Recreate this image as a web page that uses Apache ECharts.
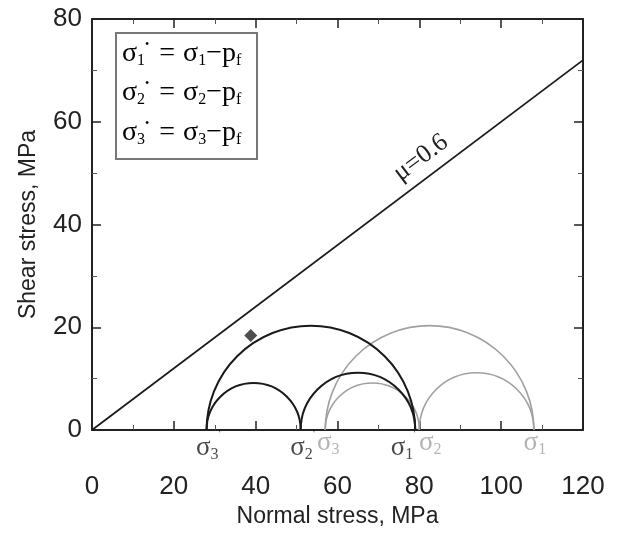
<!DOCTYPE html>
<html>
<head>
<meta charset="utf-8">
<script src="https://cdn.jsdelivr.net/npm/echarts@6/dist/echarts.min.js"></script>
<style>
  html, body { margin: 0; padding: 0; background: #fff; }
  #chart { width: 621px; height: 537px; }
</style>
</head>
<body>
<div id="chart"></div>
<script>
// Principal stresses (MPa): effective (black) and total (gray)
const effectiveStress = { s1: 79, s2: 51, s3: 28 };
const totalStress = { s1: 108, s2: 80, s3: 57 };
// Mohr semicircles as [min stress, max stress]
const effectiveCircles = [[28, 79], [28, 51], [51, 79]];
const totalCircles = [[57, 108], [57, 80], [80, 108]];
// Coulomb failure line tau = mu * sigma
const frictionCoef = 0.6;
const failureLine = [[0, 0], [120, 72]];
// Highlighted stress state near the large effective circle
const stressPoint = [[38.8, 18.4]];
// Axis ticks
const xTicks = [0, 20, 40, 60, 80, 100, 120];
const yTicks = [0, 20, 40, 60, 80];

const BLACK = '#1a1a1a';
const GRAY = '#a0a0a0';
const axisFont = 'Liberation Sans, Arial, sans-serif';
const serif = 'Liberation Serif, Times New Roman, serif';

const chart = echarts.init(document.getElementById('chart'), null, { renderer: 'canvas' });

function arcSeries(circles, color, width) {
  return {
    type: 'custom',
    coordinateSystem: 'cartesian2d',
    data: circles,
    clip: true,
    renderItem: function (params, api) {
      const a = api.coord([api.value(0), 0]);
      const b = api.coord([api.value(1), 0]);
      return {
        type: 'arc',
        shape: {
          cx: (a[0] + b[0]) / 2, cy: a[1], r: (b[0] - a[0]) / 2,
          startAngle: Math.PI, endAngle: 2 * Math.PI, clockwise: true
        },
        style: { stroke: color, fill: null, lineWidth: width }
      };
    },
    z: 3
  };
}

// Stress symbol labels under the axis
const sigRich = {
  k: { fontFamily: serif, fontSize: 27, color: BLACK },
  kb: { fontFamily: serif, fontSize: 16, color: BLACK, padding: [14, 0, 0, 0] },
  kp: { fontFamily: serif, fontSize: 14, color: BLACK, padding: [0, 0, 26, 0] },
  g: { fontFamily: serif, fontSize: 27, color: GRAY },
  gb: { fontFamily: serif, fontSize: 16, color: GRAY, padding: [14, 0, 0, 0] }
};
const sigmaLabels = [
  { value: [effectiveStress.s3, 0], text: '{k|σ}{kb|3}{kp|\'}', dx: 2 },
  { value: [effectiveStress.s2, 0], text: '{k|σ}{kb|2}{kp|\'}', dx: 2 },
  { value: [totalStress.s3, 0], text: '{g|σ}{gb|3}', dx: 3 },
  { value: [effectiveStress.s1, 0], text: '{k|σ}{kb|1}{kp|\'}', dx: -12 },
  { value: [totalStress.s2, 0], text: '{g|σ}{gb|2}', dx: 11 },
  { value: [totalStress.s1, 0], text: '{g|σ}{gb|1}', dx: 1 }
];

const legendRich = {
  k: { fontFamily: serif, fontSize: 28, color: '#333' },
  ks: { fontFamily: serif, fontSize: 16, color: '#333', padding: [14, 0, 0, 0] },
  kp: { fontFamily: serif, fontSize: 12, color: '#333', padding: [0, 0, 18, 0] },
  eq: { fontFamily: serif, fontSize: 28, color: '#333', padding: [0, 8, 0, 10] },
  g: { fontFamily: serif, fontSize: 28, color: '#aaa' },
  gs: { fontFamily: serif, fontSize: 16, color: '#aaa', padding: [14, 0, 0, 0] }
};
function legendLine(i) {
  return '{k|σ}{ks|' + i + '}{kp|•}{eq|=}{g|σ}{gs|' + i + '}{g|−p}{gs|f}';
}

function frameAxis(extra) {
  return Object.assign({
    type: 'value',
    nameMoveOverlap: false,
    axisLine: { show: true, onZero: false, lineStyle: { color: '#222', width: 2 } },
    axisTick: { show: true, inside: true, length: 9, lineStyle: { color: '#222', width: 1.5 } },
    minorTick: { show: true, splitNumber: 2, length: 5, lineStyle: { color: '#555', width: 1 } },
    splitLine: { show: false }
  }, extra);
}

const option = {
  backgroundColor: '#fff',
  animation: false,
  grid: { left: 92, top: 19, width: 491, height: 411, containLabel: false, outerBoundsMode: 'none' },
  xAxis: [
    frameAxis({
      min: 0, max: 120, interval: 20,
      name: 'Normal stress, MPa', nameLocation: 'middle', nameGap: 75,
      nameTextStyle: { fontFamily: axisFont, fontSize: 23, color: '#222' },
      axisLabel: { margin: 44, fontFamily: axisFont, fontSize: 26, color: '#222', customValues: xTicks }
    }),
    frameAxis({ min: 0, max: 120, interval: 20, position: 'top', axisLabel: { show: false } })
  ],
  yAxis: [
    frameAxis({
      min: 0, max: 80, interval: 20,
      name: 'Shear stress, MPa', nameLocation: 'middle', nameGap: 52,
      nameTextStyle: { fontFamily: axisFont, fontSize: 23, color: '#222' },
      axisLabel: { margin: 10, fontFamily: axisFont, fontSize: 26, color: '#222', customValues: yTicks }
    }),
    frameAxis({ min: 0, max: 80, interval: 20, position: 'right', axisLabel: { show: false } })
  ],
  series: [
    // keeps the top and right frame axes active
    { type: 'line', xAxisIndex: 1, yAxisIndex: 1, data: [], silent: true },
    arcSeries(totalCircles, GRAY, 1.6),
    arcSeries(effectiveCircles, BLACK, 2),
    {
      type: 'line', data: failureLine, symbol: 'none',
      lineStyle: { color: BLACK, width: 1.8 }, z: 4,
      markPoint: {
        symbol: 'rect', symbolSize: 0,
        data: [{ coord: [80.4, 53], value: 'μ=' + frictionCoef }],
        label: {
          show: true, formatter: 'μ=' + frictionCoef, rotate: 36.8,
          fontFamily: serif, fontSize: 26, color: '#222'
        }
      }
    },
    {
      type: 'scatter', data: stressPoint, symbol: 'diamond', symbolSize: 13,
      itemStyle: { color: '#222' }, z: 5
    },
    {
      type: 'scatter', symbolSize: 0, silent: true,
      data: sigmaLabels.map(d => ({
        value: d.value,
        label: {
          show: true, position: 'bottom', distance: 0, offset: [d.dx, -2],
          formatter: d.text, rich: sigRich
        }
      })),
      clip: false
    }
  ],
  graphic: [
    {
      type: 'rect', left: 115, top: 32,
      shape: { width: 141, height: 126 },
      style: { fill: '#fff', stroke: '#777', lineWidth: 2 }, z: 10
    },
    { type: 'text', left: 122, top: 39, z: 11, style: { text: legendLine(1), rich: legendRich } },
    { type: 'text', left: 122, top: 78, z: 11, style: { text: legendLine(2), rich: legendRich } },
    { type: 'text', left: 122, top: 118, z: 11, style: { text: legendLine(3), rich: legendRich } }
  ]
};

chart.setOption(option);
</script>
</body>
</html>
